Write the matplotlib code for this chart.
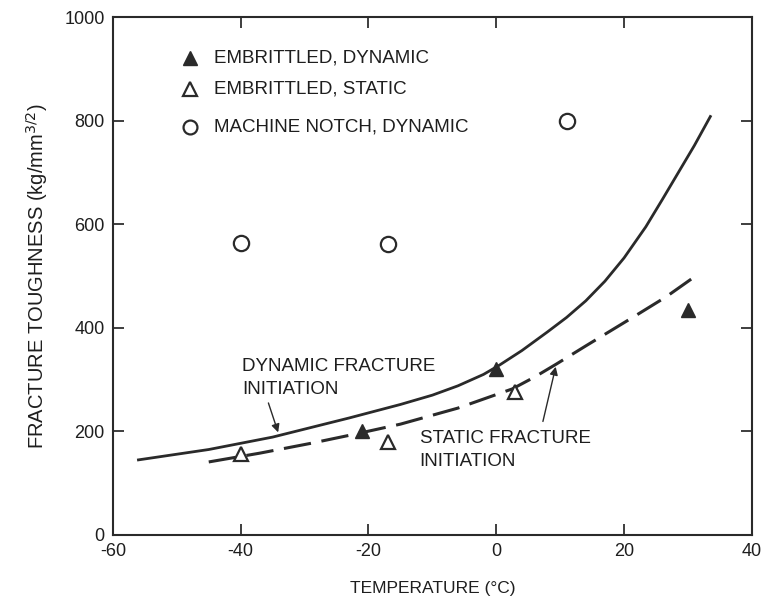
import matplotlib

matplotlib.use("Agg")
import matplotlib.pyplot as plt

plt.rcParams["font.family"] = ["Liberation Sans", "DejaVu Sans"]
plt.rcParams["axes.unicode_minus"] = False

# data
dyn_curve_t = [-56, -45, -35, -23, -15, -10, -6, -2, 0.5, 4, 8, 11, 14, 17, 20, 23.4, 26, 28.5, 31, 33.5]
dyn_curve_k = [145, 165, 189, 226, 252, 270, 288, 310, 328, 356, 392, 420, 452, 490, 535, 595, 648, 700, 752, 808]

stat_curve_t = [-45, -37, -29, -22, -15, -6, 2.5, 6, 9.4, 14, 18, 22, 26.6, 30.5]
stat_curve_k = [141, 158, 177, 195, 214, 245, 282, 305, 330, 365, 395, 425, 460, 494]

emb_dyn_t = [-21, 0, 30]
emb_dyn_k = [200, 320, 435]

emb_stat_t = [-40, -17, 3]
emb_stat_k = [157, 179, 276]

notch_dyn_t = [-40, -17, 11]
notch_dyn_k = [563, 562, 800]

legend_labels = ["EMBRITTLED, DYNAMIC", "EMBRITTLED, STATIC", "MACHINE NOTCH, DYNAMIC"]

ink = "#2a2a2a"
txt = "#1e1e1e"

fig = plt.figure(figsize=(7.68, 6.10), dpi=100)
ax = fig.add_axes([0.147, 0.123, 0.832, 0.849])

ax.plot(dyn_curve_t, dyn_curve_k, color=ink, linewidth=2.0)
ax.plot(stat_curve_t, stat_curve_k, color=ink, linewidth=2.2, dashes=(9, 3.5))

ax.plot(emb_dyn_t, emb_dyn_k, linestyle="none", marker="^", markersize=10,
        color=ink, zorder=3)
ax.plot(emb_stat_t, emb_stat_k, linestyle="none", marker="^", markersize=10,
        markerfacecolor="white", markeredgecolor=ink, markeredgewidth=1.6, zorder=3)
ax.plot(notch_dyn_t, notch_dyn_k, linestyle="none", marker="o", markersize=11,
        markerfacecolor="white", markeredgecolor=ink, markeredgewidth=1.6, zorder=3)

# legend drawn by hand like the original
leg_y = [921, 861, 788]
leg_style = [
    dict(marker="^", color=ink),
    dict(marker="^", markerfacecolor="white", markeredgecolor=ink, markeredgewidth=1.6),
    dict(marker="o", markerfacecolor="white", markeredgecolor=ink, markeredgewidth=1.6),
]
for y, lab, st in zip(leg_y, legend_labels, leg_style):
    ax.plot([-48], [y], linestyle="none", markersize=10, **st)
    ax.text(-44.2, y, lab, fontsize=13.5, va="center", ha="left", color=txt)

ax.text(-39.8, 303, "DYNAMIC FRACTURE\nINITIATION", fontsize=13.5, va="center",
        ha="left", color=txt, linespacing=1.45)
ax.annotate("", xy=(-34, 193), xytext=(-35.8, 260),
            arrowprops=dict(arrowstyle="-|>", color=ink, lw=1.0, mutation_scale=12))
ax.text(-12, 164, "STATIC FRACTURE\nINITIATION", fontsize=13.5, va="center",
        ha="left", color=txt, linespacing=1.45)
ax.annotate("", xy=(9.4, 330), xytext=(7.2, 214),
            arrowprops=dict(arrowstyle="-|>", color=ink, lw=1.0, mutation_scale=12))

ax.set_xlim(-60, 40)
ax.set_ylim(0, 1000)
ax.set_xticks([-60, -40, -20, 0, 20, 40])
ax.set_yticks([0, 200, 400, 600, 800, 1000])
ax.tick_params(direction="in", length=8, width=1.2, top=True, right=True,
               labelsize=13, colors=txt, pad=6)
for sp in ax.spines.values():
    sp.set_linewidth(1.5)
    sp.set_color(ink)

ax.set_xlabel("TEMPERATURE (°C)", fontsize=12.5, color=txt, labelpad=15)
ax.set_ylabel("FRACTURE TOUGHNESS (kg/mm$^{3/2}$)", fontsize=14.5, color=txt,
              labelpad=10)

fig.savefig("out.png", dpi=100)
